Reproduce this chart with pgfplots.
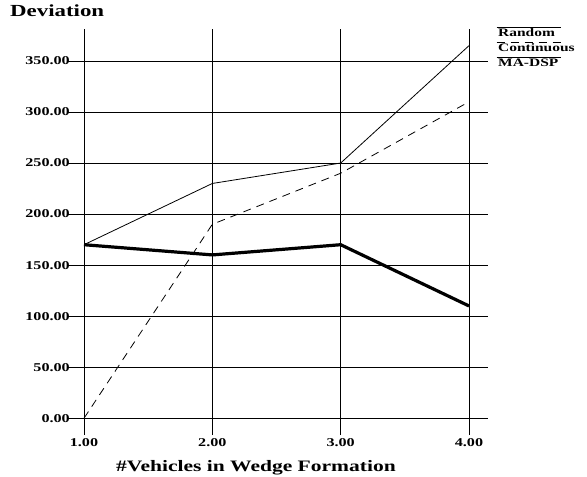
\documentclass[border=0pt]{standalone}
\usepackage{fontspec}
\setmainfont{Liberation Serif}[FakeStretch=1.35]
\usepackage{pgfplots}
\pgfplotsset{compat=1.18}
\begin{document}
\begin{tikzpicture}
\useasboundingbox (0bp,0bp) rectangle (587bp,477bp);
\begin{axis}[
  at={(67bp,42bp)}, anchor=south west,
  scale only axis, width=421bp, height=406bp,
  xmin=0.8675, xmax=4.148, ymin=-16.4, ymax=381.3,
  xtick={1,2,3,4}, ytick={0,50,...,350},
  grid=major,
  major grid style={black, line width=0.8bp},
  axis line style={draw=none},
  tick style={draw=none},
  /pgf/number format/.cd, fixed, fixed zerofill, precision=2, assume math mode=true,
  /pgfplots/.cd,
  ticklabel style={font=\fontsize{12}{13}\selectfont\bfseries},
  yticklabel style={anchor=east, inner sep=0pt, xshift=3bp},
  xticklabel style={anchor=north, inner sep=0pt, yshift=-3bp},
  clip=false,
  legend style={at={(1.0166,1.0)}, anchor=north west, draw=none, fill=none,
    inner sep=0pt, outer sep=0pt, row sep=5bp,
    font=\fontsize{11.5}{13}\selectfont\bfseries,
    nodes={inner sep=0pt, text height=8bp, text depth=2bp}},
  legend cell align=left,
  legend image code/.code={\draw[#1, overlay, line width=1bp] (0bp,6bp) -- (64bp,6bp); \path (0,0);},
]
\addplot[black, line width=0.8bp] coordinates {(1,170) (2,230) (3,250) (4,365)};
\addlegendentry{Random}
\addplot[black, line width=0.8bp, dash pattern=on 8bp off 6bp] coordinates {(1,0) (2,190) (3,240) (4,310)};
\addlegendentry{Continuous}
\addplot[black, line width=3.2bp] coordinates {(1,170) (2,160) (3,170) (4,110)};
\addlegendentry{MA-DSP}
\end{axis}
\node[anchor=base west, inner sep=0pt, font=\fontsize{17}{19}\selectfont\bfseries] at (10bp,460bp) {Deviation};
\node[anchor=base, inner sep=0pt, font=\fontsize{16}{18}\selectfont\bfseries] at (256bp,6bp) {\#Vehicles in Wedge Formation};
\end{tikzpicture}
\end{document}
